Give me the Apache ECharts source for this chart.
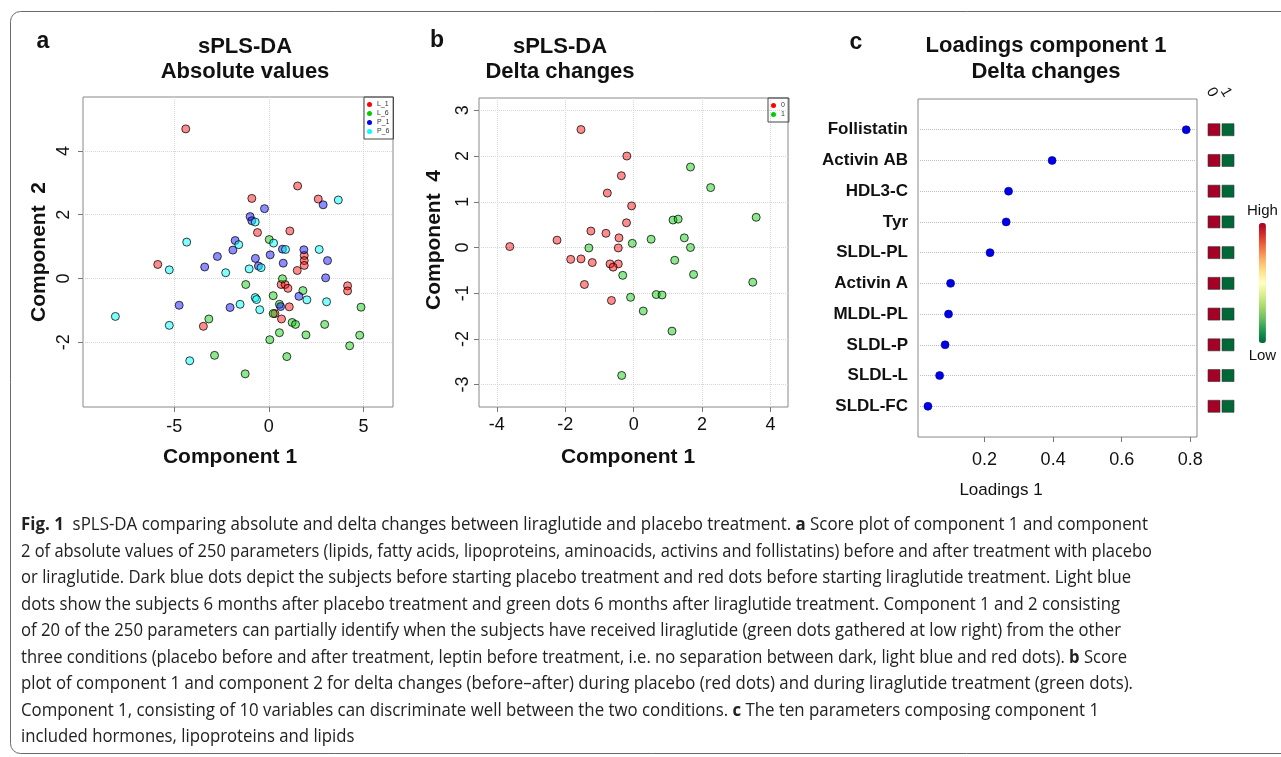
<!DOCTYPE html>
<html><head><meta charset="utf-8">
<script src="https://cdn.jsdelivr.net/npm/echarts@6/dist/echarts.min.js"></script>
<style>html,body{margin:0;padding:0;background:#fff}#c{width:1281px;height:757px}</style>
</head><body><div id="c"></div>
<script>
// ---------- DATA ----------
// Panel a: sPLS-DA absolute values (Component 1, Component 2)
const groupsA = ['L_1', 'L_6', 'P_1', 'P_6'];
const L1 = [[-4.39,4.69],[-0.90,2.51],[1.52,2.90],[2.61,2.49],[-0.60,1.44],[1.11,1.49],[1.87,0.72],[1.87,0.56],[1.87,0.41],[1.50,0.25],[-5.87,0.44],[0.65,-0.19],[0.86,-0.19],[1.01,-0.31],[1.08,-0.89],[0.67,-1.27],[4.16,-0.23],[4.16,-0.39],[-3.46,-1.50],[0.32,-1.10]];
const L6 = [[0.02,1.22],[0.72,-0.01],[-1.22,-0.19],[0.23,-0.54],[1.80,-0.38],[0.56,-0.81],[-3.17,-1.27],[0.23,-1.10],[1.23,-1.38],[1.41,-1.44],[2.95,-1.44],[4.87,-0.90],[0.56,-1.70],[1.96,-1.77],[0.05,-1.92],[4.80,-1.78],[4.27,-2.11],[-2.87,-2.41],[0.95,-2.45],[-1.25,-2.99]];
const P1 = [[-0.23,2.19],[-0.99,1.94],[-0.90,1.81],[-1.78,1.19],[-1.90,0.89],[-2.72,0.69],[-3.39,0.36],[-0.71,0.63],[0.07,0.74],[-0.55,0.39],[0.72,0.92],[0.76,0.48],[1.85,0.90],[3.10,0.56],[3.00,0.02],[2.87,2.31],[1.59,-0.56],[0.62,-0.88],[-2.05,-0.91],[-4.74,-0.84]];
const P6 = [[3.67,2.46],[-0.72,1.77],[-4.34,1.14],[0.25,1.11],[-1.59,1.06],[0.88,0.91],[2.66,0.91],[-5.26,0.27],[-2.28,0.18],[-1.04,0.30],[-0.41,0.34],[-0.72,-0.60],[-0.65,-0.66],[-1.52,-0.81],[-0.48,-0.98],[2.01,-0.67],[3.05,-0.73],[-8.11,-1.19],[-5.26,-1.47],[-4.18,-2.58]];
const xTicksA = [-5, 0, 5];
const yTicksA = [-2, 0, 2, 4];

// Panel b: sPLS-DA delta changes (Component 1, Component 4)
const groupsB = ['0', '1'];
const B0 = [[-1.54,2.58],[-0.20,2.00],[-0.36,1.57],[-0.77,1.19],[-0.06,0.91],[-0.21,0.54],[-1.25,0.36],[-0.81,0.31],[-0.43,0.21],[-2.24,0.16],[-3.62,0.02],[-0.45,-0.01],[-1.84,-0.26],[-1.54,-0.25],[-1.21,-0.33],[-0.69,-0.36],[-0.45,-0.36],[-0.60,-0.43],[-1.44,-0.81],[-0.65,-1.16]];
const B1 = [[1.66,1.76],[2.25,1.31],[3.58,0.66],[1.15,0.60],[1.30,0.62],[1.48,0.21],[0.51,0.18],[-0.04,0.09],[-1.31,-0.01],[1.66,0.00],[1.20,-0.28],[-0.32,-0.61],[1.75,-0.59],[3.48,-0.76],[-0.09,-1.09],[0.66,-1.03],[0.83,-1.04],[0.28,-1.39],[1.12,-1.83],[-0.35,-2.80]];
const xTicksB = [-4, -2, 0, 2, 4];
const yTicksB = [-3, -2, -1, 0, 1, 2, 3];

// Panel c: loadings component 1
const loadingNames = ['Follistatin','Activin AB','HDL3-C','Tyr','SLDL-PL','Activin A','MLDL-PL','SLDL-P','SLDL-L','SLDL-FC'];
const loadingValues = [0.788, 0.397, 0.270, 0.263, 0.216, 0.101, 0.095, 0.085, 0.069, 0.035];
const xTicksC = [0.2, 0.4, 0.6, 0.8];
const heatCols = ['0', '1'];
const heatCol0 = [1,1,1,1,1,1,1,1,1,1];
const heatCol1 = [0,0,0,0,0,0,0,0,0,0];

// Caption lines (segments: [text, bold])
const captionLines = [
  [['Fig. 1', true], ['  sPLS-DA comparing absolute and delta changes between liraglutide and placebo treatment. ', false], ['a', true], [' Score plot of component 1 and component', false]],
  [['2 of absolute values of 250 parameters (lipids, fatty acids, lipoproteins, aminoacids, activins and follistatins) before and after treatment with placebo', false]],
  [['or liraglutide. Dark blue dots depict the subjects before starting placebo treatment and red dots before starting liraglutide treatment. Light blue', false]],
  [['dots show the subjects 6 months after placebo treatment and green dots 6 months after liraglutide treatment. Component 1 and 2 consisting', false]],
  [['of 20 of the 250 parameters can partially identify when the subjects have received liraglutide (green dots gathered at low right) from the other', false]],
  [['three conditions (placebo before and after treatment, leptin before treatment, i.e. no separation between dark, light blue and red dots). ', false], ['b', true], [' Score', false]],
  [['plot of component 1 and component 2 for delta changes (before\u2013after) during placebo (red dots) and during liraglutide treatment (green dots).', false]],
  [['Component 1, consisting of 10 variables can discriminate well between the two conditions. ', false], ['c', true], [' The ten parameters composing component 1', false]],
  [['included hormones, lipoproteins and lipids', false]]
];
const captionRightEdges = [1148, 1152, 1131, 1120, 1121, 1127, 1133, 1099, null];

// ---------- STYLE ----------
const FF = '"Liberation Sans", Arial, sans-serif';
const CF = '"Open Sans", "Noto Sans", sans-serif';
const CAP_SIZE = 18;
const fillA = { 'L_1': 'rgba(255,0,0,0.45)', 'L_6': 'rgba(0,205,0,0.45)', 'P_1': 'rgba(0,0,255,0.45)', 'P_6': 'rgba(0,255,255,0.5)' };
const solidA = { 'L_1': '#ff0000', 'L_6': '#00cd00', 'P_1': '#0000ff', 'P_6': '#00ffff' };
const fillB = { '0': 'rgba(255,0,0,0.45)', '1': 'rgba(0,205,0,0.45)' };
const solidB = { '0': '#ff0000', '1': '#00cd00' };

function valAxis(gridIndex, min, max, ticks, margin, rotate, extra) {
  return Object.assign({
    type: 'value', gridIndex, min, max,
    axisLine: { show: false, onZero: false },
    axisTick: { show: true, customValues: ticks, length: 5, lineStyle: { color: '#777' } },
    axisLabel: { customValues: ticks, fontSize: 18, color: '#111', fontFamily: FF, margin, rotate: rotate || 0 },
    splitLine: { show: true, lineStyle: { type: 'dotted', color: '#d6d6d6', width: 1 } }
  }, extra || {});
}

const ctx = document.createElement('canvas').getContext('2d');
function measure(t, bold) { ctx.font = (bold ? 'bold ' : '') + CAP_SIZE + 'px ' + CF; return ctx.measureText(t).width; }

const graphics = [];
graphics.push({ type: 'rect', z: -10, shape: { x: 10.5, y: 11.5, width: 1320, height: 742, r: [10, 0, 0, 10] }, style: { fill: 'none', stroke: '#6a6a6a', lineWidth: 1 } });
function txt(x, y, text, size, bold, opts) {
  return Object.assign({ type: 'text', x, y, style: { text, fontSize: size, fontWeight: bold ? 'bold' : 'normal', fontFamily: FF, fill: '#111', align: 'center', verticalAlign: 'middle' } }, opts || {});
}
graphics.push(txt(43, 42, 'a', 23, true));
graphics.push(txt(437, 41, 'b', 23, true));
graphics.push(txt(856, 43, 'c', 23, true));
graphics.push(txt(245, 47, 'sPLS-DA', 22, true));
graphics.push(txt(245, 72, 'Absolute values', 22, true));
graphics.push(txt(560, 47, 'sPLS-DA', 22, true));
graphics.push(txt(560, 72, 'Delta changes', 22, true));
graphics.push(txt(1046, 46, 'Loadings component 1', 22, true));
graphics.push(txt(1046, 72, 'Delta changes', 22, true));
graphics.push(txt(230, 457, 'Component 1', 21, true));
graphics.push(txt(628, 457, 'Component 1', 21, true));
graphics.push(txt(1001, 490, 'Loadings 1', 17, false));
graphics.push(txt(39, 252, 'Component  2', 21, true, { rotation: Math.PI / 2 }));
graphics.push(txt(434, 240, 'Component  4', 21, true, { rotation: Math.PI / 2 }));

const capScales = [];
const capItems = captionLines.map((segs, i) => {
  let w = 0, text = '';
  segs.forEach(([t, b]) => { w += measure(t, b); text += '{' + (b ? 'b' : 'n') + '|' + t + '}'; });
  if (captionRightEdges[i] != null) capScales.push((captionRightEdges[i] - 21) / w);
  return { text, w, i };
});
const sortedScales = capScales.slice().sort((a, b) => a - b);
const medScale = sortedScales[Math.floor(sortedScales.length / 2)];
capItems.forEach(({ text, w, i }) => {
  const sx = captionRightEdges[i] != null ? (captionRightEdges[i] - 21) / w : medScale;
  graphics.push({
    type: 'text', x: 21, y: 525 + i * 26.5, scaleX: sx,
    style: {
      text, fill: '#222', verticalAlign: 'middle', align: 'left', fontSize: CAP_SIZE, fontFamily: CF,
      rich: { b: { fontWeight: 'bold', fontSize: CAP_SIZE, fontFamily: CF, fill: '#222' }, n: { fontWeight: 'normal', fontSize: CAP_SIZE, fontFamily: CF, fill: '#222' } }
    }
  });
});

const seriesA = [L1, L6, P1, P6].map((d, i) => ({
  name: groupsA[i], type: 'scatter', xAxisIndex: 0, yAxisIndex: 0, data: d, symbolSize: 8,
  itemStyle: { color: fillA[groupsA[i]], borderColor: 'rgba(0,0,0,0.75)', borderWidth: 1, opacity: 1 },
  emphasis: { disabled: true }
}));
const seriesB = [B0, B1].map((d, i) => ({
  name: groupsB[i], type: 'scatter', xAxisIndex: 1, yAxisIndex: 1, data: d, symbolSize: 8,
  itemStyle: { color: fillB[groupsB[i]], borderColor: 'rgba(0,0,0,0.75)', borderWidth: 1, opacity: 1 },
  emphasis: { disabled: true }
}));
const seriesC = {
  name: 'loadings', type: 'scatter', xAxisIndex: 2, yAxisIndex: 2, symbolSize: 8,
  data: loadingValues.map((v, i) => [v, i + 1]),
  itemStyle: { color: '#0000e6', borderColor: '#00008b', borderWidth: 0.6, opacity: 1 }, emphasis: { disabled: true }
};
const heatData = [];
loadingNames.forEach((n, i) => { heatData.push([0, i + 1, heatCol0[i]]); heatData.push([1, i + 1, heatCol1[i]]); });
const seriesH = {
  name: 'heat', type: 'scatter', xAxisIndex: 3, yAxisIndex: 3, symbol: 'rect', symbolSize: [12, 12],
  data: heatData, itemStyle: { borderColor: '#333', borderWidth: 0.6, opacity: 1 }, emphasis: { disabled: true }
};

const option = {
  animation: false,
  backgroundColor: '#fff',
  textStyle: { fontFamily: FF },
  graphic: graphics,
  legend: [
    { left: 364, top: 97, orient: 'vertical', icon: 'circle', itemWidth: 5, itemHeight: 5, itemGap: 2, padding: [4, 4, 4, 3],
      borderColor: '#444', borderWidth: 1, selectedMode: false,
      textStyle: { fontSize: 7, color: '#333', fontFamily: FF, lineHeight: 7 },
      data: groupsA.map(g => ({ name: g, itemStyle: { color: solidA[g], borderWidth: 0 } })) },
    { left: 768, top: 98, orient: 'vertical', icon: 'circle', itemWidth: 5, itemHeight: 5, itemGap: 2, padding: [4, 4, 4, 3],
      borderColor: '#444', borderWidth: 1, selectedMode: false,
      textStyle: { fontSize: 7, color: '#333', fontFamily: FF, lineHeight: 7 },
      data: groupsB.map(g => ({ name: g, itemStyle: { color: solidB[g], borderWidth: 0 } })) }
  ],
  visualMap: {
    type: 'continuous', seriesIndex: 7, dimension: 2, min: 0, max: 1, calculable: false,
    orient: 'vertical', left: 1232, top: 188, itemWidth: 7, itemHeight: 120, textGap: 5,
    text: ['High', 'Low'], textStyle: { fontSize: 15, color: '#111', fontFamily: FF },
    inRange: { color: ['#006837','#1a9850','#66bd63','#a6d96a','#d9ef8b','#ffffbf','#fee08b','#fdae61','#f46d43','#d73027','#a50026'] }
  },
  grid: [
    { left: 83, top: 97, width: 310, height: 310, show: true, borderColor: '#888', borderWidth: 1, backgroundColor: 'transparent' },
    { left: 479, top: 98, width: 309, height: 309, show: true, borderColor: '#888', borderWidth: 1, backgroundColor: 'transparent' },
    { left: 918, top: 99, width: 279, height: 338, show: true, borderColor: '#888', borderWidth: 1, backgroundColor: 'transparent' },
    { left: 1207, top: 99, width: 28, height: 338, show: false }
  ],
  xAxis: [
    valAxis(0, -9.82, 6.56, xTicksA, 11),
    valAxis(1, -4.52, 4.51, xTicksB, 9),
    valAxis(2, 0.006, 0.8195, xTicksC, 14, 0, { splitLine: { show: false } }),
    { type: 'category', gridIndex: 3, data: heatCols, position: 'top', boundaryGap: true,
      axisLine: { show: false, onZero: false }, axisTick: { show: false }, splitLine: { show: false },
      axisLabel: { rotate: 60, interval: 0, hideOverlap: false, fontSize: 15, color: '#111', fontFamily: FF, margin: 3 } }
  ],
  yAxis: [
    valAxis(0, -4.03, 5.69, yTicksA, 10, 90),
    valAxis(1, -3.49, 3.27, yTicksB, 7, 90),
    { type: 'value', gridIndex: 2, min: 0, max: 11, inverse: true,
      axisLine: { show: false, onZero: false },
      axisTick: { show: false, customValues: [1,2,3,4,5,6,7,8,9,10] },
      axisLabel: { customValues: [1,2,3,4,5,6,7,8,9,10], formatter: v => loadingNames[Math.round(v) - 1] || '', fontSize: 17, fontWeight: 'bold', color: '#111', fontFamily: FF, margin: 10 },
      splitLine: { show: true, lineStyle: { type: 'dotted', color: '#bdbdbd', width: 1 } } },
    { type: 'value', gridIndex: 3, min: 0, max: 11, inverse: true, show: false }
  ],
  series: [...seriesA, ...seriesB, seriesC, seriesH]
};
const chart = echarts.init(document.getElementById('c'), null, { renderer: 'canvas' });
chart.setOption(option);
</script></body></html>
